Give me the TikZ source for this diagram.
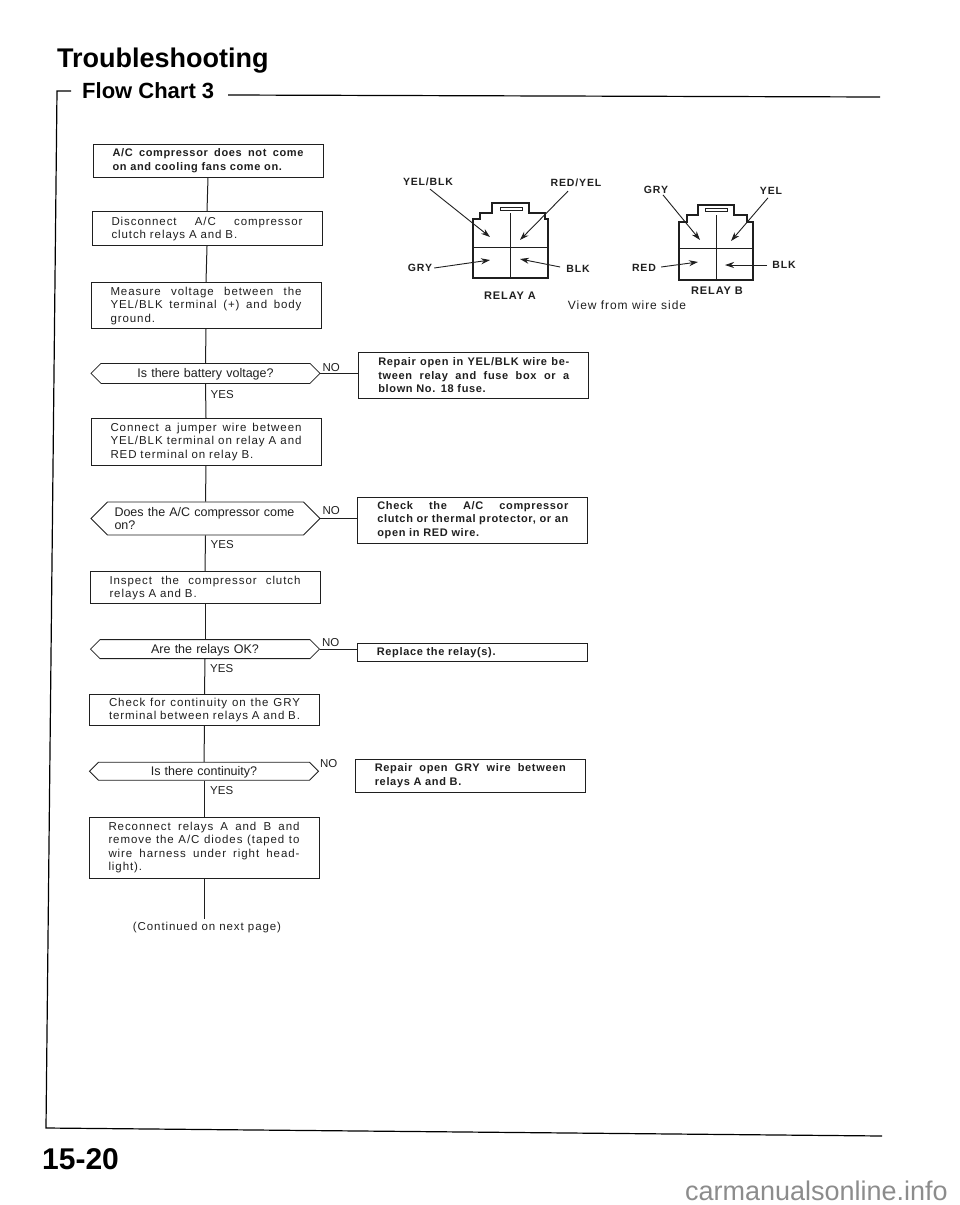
\documentclass[tikz,border=0pt]{standalone}
\usepackage{fontspec}
\setmainfont{Liberation Sans}
\newfontfamily\chartfont[LetterSpace=8]{Liberation Sans}
\newfontfamily\fixfont[LetterSpace=6]{Liberation Sans}
\usetikzlibrary{arrows.meta,positioning,shapes.misc}
\definecolor{figdark}{gray}{0.12}
\definecolor{figmark}{gray}{0.55}
\newcommand{\wideline}[1]{\makebox[191pt][s]{\spaceskip=0pt\relax #1}}
\newcommand{\atmid}[2][-4.5pt]{\raisebox{#1}[0pt][0pt]{#2}}
\tikzset{
  stepbox/.style={
    rectangle, draw=figdark, fill=white, line width=0.8pt,
    text width=191pt, inner xsep=19.5pt, inner ysep=0pt,
    align=left, text=figdark,
    font=\chartfont\fontsize{11.5}{13.5}\selectfont
  },
  fixbox/.style={stepbox, font=\fixfont\bfseries\fontsize{11}{13.5}\selectfont},
  query/.style={
    chamfered rectangle, chamfered rectangle xsep=18pt,
    draw=figdark, fill=white, line width=0.8pt,
    minimum width=229pt, inner xsep=0pt, inner ysep=0pt, text width=190pt,
    text height=0pt, text depth=0pt,
    align=center, text=figdark,
    font=\fontsize{12.5}{13.5}\selectfont
  },
  tag/.style={inner sep=0pt, text=figdark, font=\fontsize{11.5}{13}\selectfont},
  wirename/.style={inner sep=0pt, text=figdark, font=\chartfont\bfseries\fontsize{10.5}{12}\selectfont},
  relayname/.style={wirename, font=\chartfont\bfseries\fontsize{11}{12}\selectfont},
  flow/.style={draw=figdark, line width=1pt},
  wire/.style={-{Stealth[length=9pt,width=6pt]}, draw=figdark, line width=0.9pt},
  housing/.style={draw=figdark, line width=1.2pt},
  frameline/.style={draw=black, line width=1.2pt}
}

\begin{document}
\begin{tikzpicture}[x=1pt,y=-1pt]
  \useasboundingbox (0,0) rectangle (960,1205);

  % Page heading and frame
  \node[inner sep=0pt, anchor=base west, font=\bfseries\fontsize{27}{28}\selectfont] (title) at (57,67) {Troubleshooting};
  \node[inner sep=0pt, anchor=base west, font=\bfseries\fontsize{22}{24}\selectfont] (chart) at (82,98) {Flow Chart 3};
  \draw[frameline] (71,91) -- (57,91) -- (46,1128) -- (882,1136);
  \draw[frameline] (228,95) -- (880,97);

  % Main column
  \node[fixbox, minimum height=33pt] (start) at (208,160.5)
    {\wideline{A/C compressor does not come}\\on and cooling fans come on.};
  \node[stepbox, minimum height=34pt, below=34pt of start, xshift=-1pt] (unplug)
    {\wideline{Disconnect A/C compressor}\\clutch relays A and B.};
  \node[stepbox, minimum height=46pt, below=36pt of unplug, xshift=-1pt] (measure)
    {\wideline{Measure voltage between the}\\\wideline{YEL/BLK terminal (+) and body}\\ground.};
  \node[query, chamfered rectangle ysep=10pt, below=34pt of measure, xshift=-0.5pt] (askvolt)
    {\atmid{Is there battery voltage?}};
  \node[stepbox, minimum height=47pt, below=34pt of askvolt, xshift=0.5pt] (jumper)
    {\wideline{Connect a jumper wire between}\\\wideline{YEL/BLK terminal on relay A and}\\RED terminal on relay B.};
  \node[query, chamfered rectangle ysep=16.5pt, chamfered rectangle xsep=20pt, text width=182pt, align=left, below=36pt of jumper, xshift=-0.5pt] (askcomp)
    {\atmid[2.3pt]{Does the A/C compressor come}\\\atmid[2.3pt]{on?}};
  \node[stepbox, minimum height=32pt, below=36pt of askcomp, xshift=-0.5pt] (inspect)
    {\wideline{Inspect the compressor clutch}\\relays A and B.};
  \node[query, chamfered rectangle ysep=9.5pt, below=35pt of inspect] (askrelay)
    {\atmid{Are the relays OK?}};
  \node[stepbox, minimum height=31pt, below=35pt of askrelay, xshift=-0.5pt] (gryfind)
    {\wideline{Check for continuity on the GRY}\\\wideline{terminal between relays A and B.}};
  \node[query, chamfered rectangle ysep=9pt, below=36pt of gryfind, xshift=-0.5pt] (askgry)
    {\atmid{Is there continuity?}};
  \node[stepbox, minimum height=61pt, below=36pt of askgry] (rejoin)
    {\wideline{Reconnect relays A and B and}\\\wideline{remove the A/C diodes (taped to}\\\wideline{wire harness under right head-}\\light).};
  \coordinate[below=41pt of rejoin] (more);
  \node[inner sep=0pt, below=3pt of more, xshift=3pt, text=figdark, font=\chartfont\fontsize{11.5}{12}\selectfont] (moretext)
    {(Continued on next page)};

  % Repair boxes on the NO side
  \node[fixbox, minimum height=46pt, right=38pt of askvolt, yshift=-2pt] (fixopen)
    {\wideline{Repair open in YEL/BLK wire be-}\\\wideline{tween relay and fuse box or a}\\blown No. 18 fuse.};
  \node[fixbox, minimum height=46pt, right=37pt of askcomp, yshift=-1.5pt] (fixclutch)
    {\wideline{Check the A/C compressor}\\\wideline{clutch or thermal protector, or an}\\open in RED wire.};
  \node[fixbox, minimum height=18pt, right=37pt of askrelay, yshift=-3.5pt] (fixrelay)
    {Replace the relay(s).};
  \node[fixbox, minimum height=33pt, right=36pt of askgry, yshift=-4.5pt] (fixgry)
    {\wideline{Repair open GRY wire between}\\relays A and B.};

  % Flow connections
  \draw[flow] (start.south) -- (unplug.north);
  \draw[flow] (unplug.south) -- (measure.north);
  \draw[flow] (measure.south) -- (askvolt.north);
  \draw[flow] (askvolt.south) -- (jumper.north);
  \draw[flow] (jumper.south) -- (askcomp.north);
  \draw[flow] (askcomp.south) -- (inspect.north);
  \draw[flow] (inspect.south) -- (askrelay.north);
  \draw[flow] (askrelay.south) -- (gryfind.north);
  \draw[flow] (gryfind.south) -- (askgry.north);
  \draw[flow] (askgry.south) -- (rejoin.north);
  \draw[flow] (rejoin.south) -- (more);
  \draw[flow] (askvolt.east) -- (askvolt.east -| fixopen.west);
  \draw[flow] (askcomp.east) -- (askcomp.east -| fixclutch.west);
  \draw[flow] (askrelay.east) -- (askrelay.east -| fixrelay.west);

  % YES and NO marks
  \node[tag, above right=2pt and 2pt of askvolt.east] (novolt) {NO};
  \node[tag, above right=4pt and 2pt of askcomp.east] (nocomp) {NO};
  \node[tag, above right=2pt and 2pt of askrelay.east] (norelay) {NO};
  \node[tag, above right=3pt and 1pt of askgry.east] (nogry) {NO};
  \node[tag, below right=6pt and 5pt of askvolt.south] (yesvolt) {YES};
  \node[tag, below right=5pt and 5pt of askcomp.south] (yescomp) {YES};
  \node[tag, below right=5pt and 5pt of askrelay.south] (yesrelay) {YES};
  \node[tag, below right=6pt and 6pt of askgry.south] (yesgry) {YES};

  % Relay A connector
  \draw[housing] (473,278) -- (473,219) -- (480,219) -- (480,213) -- (492,213) -- (492,203)
    -- (529,203) -- (529,213) -- (545,213) -- (545,219) -- (548,219) -- (548,278) -- cycle;
  \draw[housing, line width=0.6pt] (500,207) rectangle (522,210);
  \draw[flow] (510,213) -- (510,278);
  \draw[flow] (473,247) -- (548,247);
  \node[wirename] (ayelblk) at (428,182) {YEL/BLK};
  \node[wirename] (aredyel) at (576,183) {RED/YEL};
  \node[wirename] (agry) at (420,268) {GRY};
  \node[wirename] (ablk) at (578,269) {BLK};
  \node[relayname] (relaya) at (510,296) {RELAY A};
  \coordinate (apin1) at (490,237);
  \coordinate (apin2) at (520,240);
  \coordinate (apin3) at (490,260);
  \coordinate (apin4) at (520,259);
  \draw[wire] (ayelblk.south) ++(2,3) -- (apin1);
  \draw[wire] (aredyel.south) ++(-8,4) -- (apin2);
  \draw[wire] (agry.east) ++(2,0) -- (apin3);
  \draw[wire] (ablk.west) ++(-6,-2) -- (apin4);

  % Relay B connector
  \draw[housing] (679,280) -- (679,222) -- (687,222) -- (687,215) -- (698,215) -- (698,205)
    -- (734,205) -- (734,215) -- (747,215) -- (747,222) -- (753,222) -- (753,280) -- cycle;
  \draw[housing, line width=0.6pt] (705,208) rectangle (727,211);
  \draw[flow] (716,215) -- (716,280);
  \draw[flow] (679,248) -- (753,248);
  \node[wirename] (bgry) at (656,190) {GRY};
  \node[wirename] (byel) at (771,191) {YEL};
  \node[wirename] (bred) at (644,268) {RED};
  \node[wirename] (bblk) at (784,265) {BLK};
  \node[relayname] (relayb) at (717,291) {RELAY B};
  \coordinate (bpin1) at (700,240);
  \coordinate (bpin2) at (731,241);
  \coordinate (bpin3) at (698,262);
  \coordinate (bpin4) at (725,265);
  \draw[wire] (bgry.south) ++(7,1) -- (bpin1);
  \draw[wire] (byel.south) ++(-3,3) -- (bpin2);
  \draw[wire] (bred.east) ++(5,-1) -- (bpin3);
  \draw[wire] (bblk.west) ++(-5,0) -- (bpin4);
  \node[inner sep=0pt, text=figdark, font=\chartfont\fontsize{12}{13}\selectfont] (viewnote) at (627,305) {View from wire side};

  % Page number and site mark
  \node[inner sep=0pt, anchor=base west, font=\bfseries\fontsize{30}{31}\selectfont] (pageno) at (42,1169) {15-20};
  \node[inner sep=0pt, anchor=base east, text=figmark, font=\fontsize{27}{28}\selectfont] (site) at (948,1200) {carmanualsonline.info};
\end{tikzpicture}
\end{document}
